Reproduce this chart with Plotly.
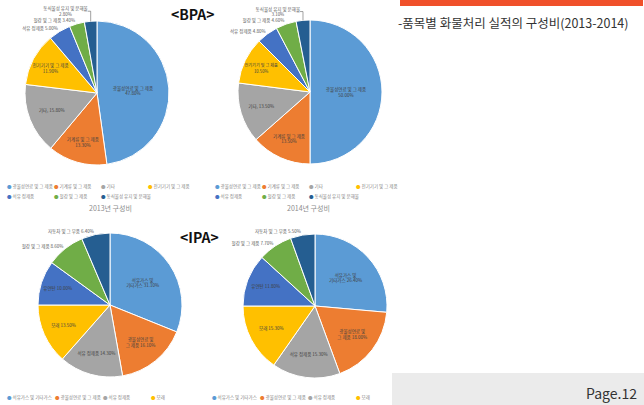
import plotly.graph_objects as go

W, H = 644, 405
FONT = "Noto Sans CJK KR"

colors = ["#5B9BD5", "#ED7D31", "#A5A5A5", "#FFC000", "#4472C4", "#70AD47", "#255E91"]

# BPA
bpa_labels = ["광물성연료 및 그 제품", "기계류 및 그 제품", "기타", "전기기기 및 그 제품",
              "석유 정제품", "철강 및 그 제품", "동식물성 유지 및 분해물"]
bpa_2013 = [47.80, 13.30, 15.80, 11.90, 5.00, 3.40, 2.80]
bpa_2014 = [50.00, 13.50, 13.50, 10.50, 4.80, 4.60, 3.10]

# IPA
ipa_labels = ["석유가스 및 기타가스", "광물성연료 및 그 제품", "석유 정제품", "모래",
              "유연탄", "철강 및 그 제품", "자동차 및 그 부품"]
ipa_2013 = [31.10, 16.10, 14.30, 13.50, 10.00, 8.60, 6.40]
ipa_2014 = [26.40, 18.00, 15.30, 15.30, 11.80, 7.70, 5.50]

captions = ["2013년 구성비", "2014년 구성비"]

bpa_tmpl = ["%{label}<br>%{percent:.2%}", "%{label}<br>%{percent:.2%}", "%{label}, %{percent:.2%}",
            "%{label}<br>%{percent:.2%}", "%{label} %{percent:.2%}", "%{label} %{percent:.2%}",
            "%{label}<br>%{percent:.2%}"]
bpa_pos = ["inside", "inside", "inside", "inside", "outside", "outside", "outside"]
ipa_tmpl = ["석유가스 및<br>기타가스 %{percent:.2%}", "광물성연료 및<br>그 제품 %{percent:.2%}",
            "%{label} %{percent:.2%}", "%{label} %{percent:.2%}", "%{label} %{percent:.2%}",
            "%{label} %{percent:.2%}", "%{label} %{percent:.2%}"]
ipa_pos = ["inside", "inside", "inside", "inside", "inside", "outside", "outside"]


def dom(cx, cy, r):
    return dict(x=[(cx - r) / W, (cx + r) / W], y=[1 - (cy + r) / H, 1 - (cy - r) / H])


fig = go.Figure()
pies = [
    (bpa_labels, bpa_2013, bpa_tmpl, bpa_pos, (97, 93, 72)),
    (bpa_labels, bpa_2014, bpa_tmpl, bpa_pos, (310, 92, 72)),
    (ipa_labels, ipa_2013, ipa_tmpl, ipa_pos, (110, 305, 72)),
    (ipa_labels, ipa_2014, ipa_tmpl, ipa_pos, (315, 306, 72)),
]
for labels, vals, tmpl, pos, (cx, cy, r) in pies:
    fig.add_trace(go.Pie(
        labels=labels, values=vals, sort=False, direction="clockwise", rotation=0,
        marker=dict(colors=colors, line=dict(color="white", width=1)),
        texttemplate=tmpl, textposition=pos, insidetextorientation="horizontal",
        textfont=dict(size=4.5, color="#404040", family=FONT),
        outsidetextfont=dict(size=4.5, color="#595959", family=FONT),
        domain=dom(cx, cy, r), showlegend=False, hoverinfo="label+percent",
    ))

ann = []


def txt(x, y, text, size, color, xanchor="center"):
    ann.append(dict(x=x / W, y=1 - y / H, xref="paper", yref="paper", showarrow=False,
                    xanchor=xanchor, yanchor="middle", text=text,
                    font=dict(size=size, color=color, family=FONT)))


def legend_rows(labels, x0, ys, per_row, xstep):
    for i, lab in enumerate(labels):
        row, col = divmod(i, per_row)
        if row >= len(ys):
            break
        txt(x0 + col * xstep, ys[row], f"<span style='color:{colors[i]}'>●</span> {lab}",
            4.5, "#7f7f7f", "left")


legend_rows(bpa_labels, 5, [187, 196], 4, 47)
legend_rows(bpa_labels, 213, [187, 196], 4, 47)
legend_rows(ipa_labels, 5, [397], 4, 48)
legend_rows(ipa_labels, 210, [397], 4, 48)

for cap, cx in zip(captions, [110, 308]):
    txt(cx, 208, cap, 7, "#8c8c8c")

txt(193, 14, "<b>&lt;BPA&gt;</b>", 14, "#111")
txt(200, 237, "<b>&lt;IPA&gt;</b>", 14, "#111")
txt(396, 22, "-품목별 화물처리 실적의 구성비(2013-2014)", 12.5, "#333", "left")
txt(639, 393, "Page.12", 14, "#333", "right")

shapes = [
    dict(type="rect", xref="paper", yref="paper", x0=400 / W, x1=643 / W, y0=1 - 6 / H, y1=1,
         fillcolor="#F0502A", line=dict(width=0), layer="below"),
    dict(type="rect", xref="paper", yref="paper", x0=392 / W, x1=1, y0=0, y1=1 - 373 / H,
         fillcolor="#EBEBEB", line=dict(width=0), layer="below"),
]

fig.update_layout(width=W, height=H, margin=dict(l=0, r=0, t=0, b=0),
                  paper_bgcolor="white", plot_bgcolor="white",
                  annotations=ann, shapes=shapes, font=dict(family=FONT))
fig.write_html("out.html", config={"displayModeBar": False},
               post_script="document.body.style.margin='0px';")
